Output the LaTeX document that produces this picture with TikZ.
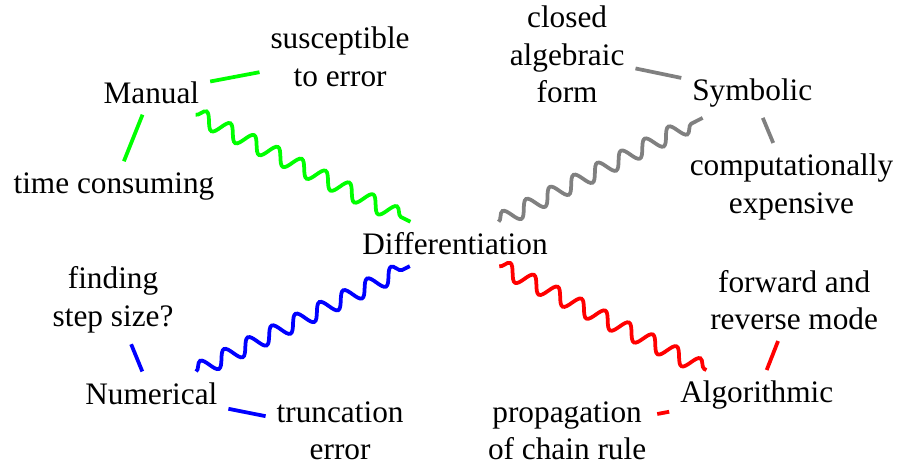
\documentclass[tikz,border=0pt]{standalone}
\usepackage{fontspec}
\setmainfont{Liberation Serif}
\usepackage{xcolor}
\definecolor{cManual}{HTML}{00FF00}
\definecolor{cSymb}{HTML}{808080}
\definecolor{cNum}{HTML}{0000FF}
\definecolor{cAlgo}{HTML}{FF0000}
\usetikzlibrary{decorations.pathmorphing}
\tikzset{
  node-topic/.style={align=center},
  node-note/.style={align=center},
  % plain link to a note, wavy link to the centre
  edge-plain/.style={very thick},
  edge-snake/.style={very thick,decorate,
    decoration={snake,amplitude=2.5pt,segment length=8.5pt}},
}

\begin{document}
\begin{tikzpicture}
  \useasboundingbox (-5.11,-2.50) rectangle (5.01,2.74);
  \node[node-topic]                 (diff) at (0,0)         {Differentiation};
  \node[node-topic]                 (man)  at (-3.41,1.70)  {Manual};
  \node[node-note]                  (susc) at (-1.29,2.10)  {susceptible\\to error};
  \node[node-note]                  (time) at (-3.83,0.65)  {time consuming};
  \node[node-topic]                 (sym)  at (3.34,1.70)   {Symbolic};
  \node[node-note]                  (clo)  at (1.26,2.13)   {closed\\algebraic\\form};
  \node[node-note]                  (comp) at (3.78,0.64)   {computationally\\expensive};
  \node[node-topic]                 (num)  at (-3.41,-1.68) {Numerical};
  \node[node-note]                  (fin)  at (-3.84,-0.63) {finding\\step size?};
  \node[node-note]                  (trc)  at (-1.29,-2.10) {truncation\\error};
  \node[node-topic]                 (alg)  at (3.39,-1.70)  {Algorithmic};
  \node[node-note]                  (fwd)  at (3.81,-0.63)  {forward and\\reverse mode};
  \node[node-note]                  (prop) at (1.26,-2.10)  {propagation\\of chain rule};
  \draw[edge-snake,draw=cManual] (man) -- (diff);
  \draw[edge-plain,draw=cManual] (man) -- (susc);
  \draw[edge-plain,draw=cManual] (man) -- (time);
  \draw[edge-snake,draw=cSymb]   (diff) -- (sym);
  \draw[edge-plain,draw=cSymb]   (sym) -- (clo);
  \draw[edge-plain,draw=cSymb]   (sym) -- (comp);
  \draw[edge-snake,draw=cNum]    (num) -- (diff);
  \draw[edge-plain,draw=cNum]    (num) -- (fin);
  \draw[edge-plain,draw=cNum]    (num) -- (trc);
  \draw[edge-snake,draw=cAlgo]   (diff) -- (alg);
  \draw[edge-plain,draw=cAlgo]   (alg) -- (fwd);
  \draw[edge-plain,draw=cAlgo]   (alg) -- (prop);
\end{tikzpicture}
\end{document}
